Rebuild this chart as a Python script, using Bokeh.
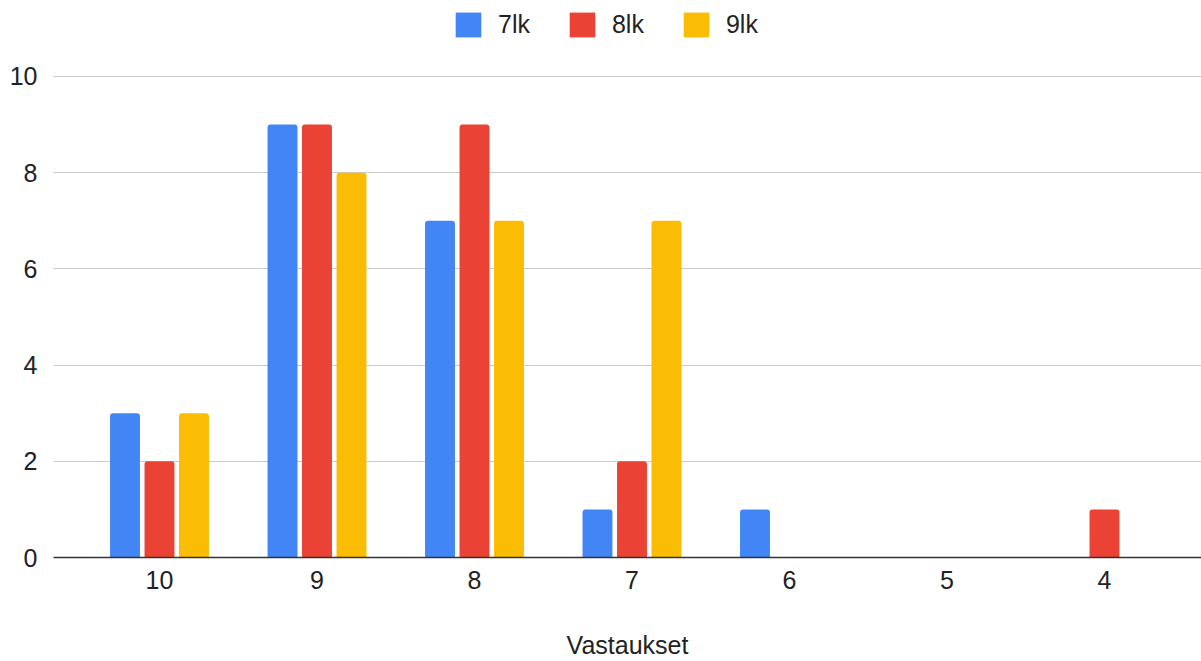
import numpy as np
from bokeh.plotting import figure
from bokeh.models import Range1d, FixedTicker, Legend, LegendItem
from bokeh.embed import file_html
from bokeh.resources import INLINE

categories = ["10", "9", "8", "7", "6", "5", "4"]
series_names = ["7lk", "8lk", "9lk"]
values_7lk = [3, 9, 7, 1, 1, 0, 0]
values_8lk = [2, 9, 9, 2, 0, 0, 1]
values_9lk = [3, 8, 7, 7, 0, 0, 0]
colors = ["#4285F4", "#EA4335", "#FBBC04"]

FONT = "Liberation Sans"
FS = "25px"

p = figure(width=1201, height=661, output_backend="svg", toolbar_location=None,
           x_range=Range1d(-0.673, 6.616), y_range=Range1d(0, 11.58),
           min_border_left=53, min_border_right=0, min_border_top=0, min_border_bottom=104)
p.outline_line_color = None
p.background_fill_color = "white"

idx = np.arange(len(categories))
offsets = [-0.219, 0.0, 0.219]
renderers = []
for vals, off, col in zip([values_7lk, values_8lk, values_9lk], offsets, colors):
    r = p.vbar(x=idx + off, top=vals, bottom=0, width=0.19, fill_color=col,
               line_color=None, border_radius=(3, 3, 0, 0))
    renderers.append(r)

# axes
p.xaxis.ticker = FixedTicker(ticks=list(idx))
p.xaxis.major_label_overrides = {int(i): c for i, c in zip(idx, categories)}
p.xaxis.axis_label = "Vastaukset"
p.xaxis.axis_label_text_font = FONT
p.xaxis.axis_label_text_font_style = "normal"
p.xaxis.axis_label_text_font_size = FS
p.xaxis.axis_label_text_color = "#222222"
p.xaxis.axis_label_standoff = 39
p.xaxis.major_label_text_font = FONT
p.xaxis.major_label_text_font_size = FS
p.xaxis.major_label_text_color = "#222222"
p.xaxis.major_label_standoff = 7
p.xaxis.major_tick_line_color = None
p.xaxis.minor_tick_line_color = None
p.xaxis.axis_line_color = "#333333"
p.xaxis.axis_line_width = 1.5

p.yaxis.ticker = FixedTicker(ticks=[0, 2, 4, 6, 8, 10])
p.yaxis.major_label_text_font = FONT
p.yaxis.major_label_text_font_size = FS
p.yaxis.major_label_text_color = "#222222"
p.yaxis.major_label_standoff = 10
p.yaxis.major_tick_line_color = None
p.yaxis.minor_tick_line_color = None
p.yaxis.axis_line_color = None

p.xgrid.grid_line_color = None
p.ygrid.grid_line_color = "#cccccc"
p.ygrid.grid_line_width = 1

legend = Legend(items=[LegendItem(label=n, renderers=[r]) for n, r in zip(series_names, renderers)],
                orientation="horizontal", location=(399, 517),
                glyph_width=32, glyph_height=31, label_standoff=14, spacing=36,
                label_text_font=FONT, label_text_font_size=FS, label_text_color="#222222",
                border_line_color=None, background_fill_alpha=0, padding=2, margin=0, label_height=31)
p.add_layout(legend, "center")

open("out.html", "w").write(file_html(p, INLINE))
